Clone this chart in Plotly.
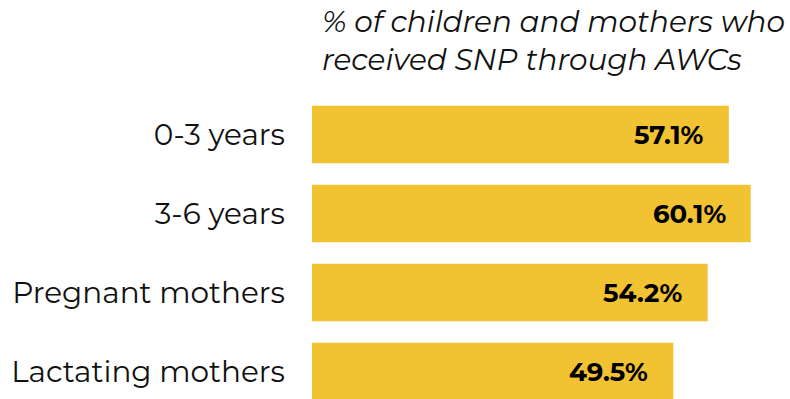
import plotly.graph_objects as go

categories = ["0-3 years", "3-6 years", "Pregnant mothers", "Lactating mothers"]
values = [57.1, 60.1, 54.2, 49.5]
value_labels = ["57.1%", "60.1%", "54.2%", "49.5%"]
title_lines = ["% of children and mothers who", "received SNP through AWCs"]

FONT = "Montserrat, 'Open Sans', sans-serif"
BAR = "#F1C232"

fig = go.Figure()
fig.add_trace(go.Bar(
    y=categories, x=values, orientation="h",
    marker=dict(color=BAR, line=dict(width=0)),
    width=0.73, hoverinfo="skip",
))

for c, v, t in zip(categories, values, value_labels):
    fig.add_annotation(x=v, y=c, xref="x", yref="y", text="<b>" + t + "</b>",
                       showarrow=False, xanchor="right", yanchor="middle",
                       xshift=-23, font=dict(family=FONT, size=26, color="#000000"))

fig.add_annotation(xref="paper", yref="paper", x=8 / 478, y=(399 - 1) / 304,
                   xanchor="left", yanchor="top", align="left",
                   text="<i>" + "<br>".join(title_lines) + "</i>", showarrow=False,
                   font=dict(family=FONT, size=29.5, color="#111111"))

fig.update_layout(
    width=790, height=399,
    margin=dict(l=312, r=0, t=95, b=0, pad=0),
    paper_bgcolor="white", plot_bgcolor="white",
    showlegend=False,
    xaxis=dict(range=[0, 478 / 7.3], visible=False, fixedrange=True),
    yaxis=dict(type="category", categoryorder="array", categoryarray=categories,
               range=[-0.5 + 304 / 79, -0.5], showgrid=False, zeroline=False,
               showline=False, ticks="", ticklabelstandoff=26,
               tickfont=dict(family=FONT, size=29.5, color="#111111")),
)

fig.write_html("out.html")
